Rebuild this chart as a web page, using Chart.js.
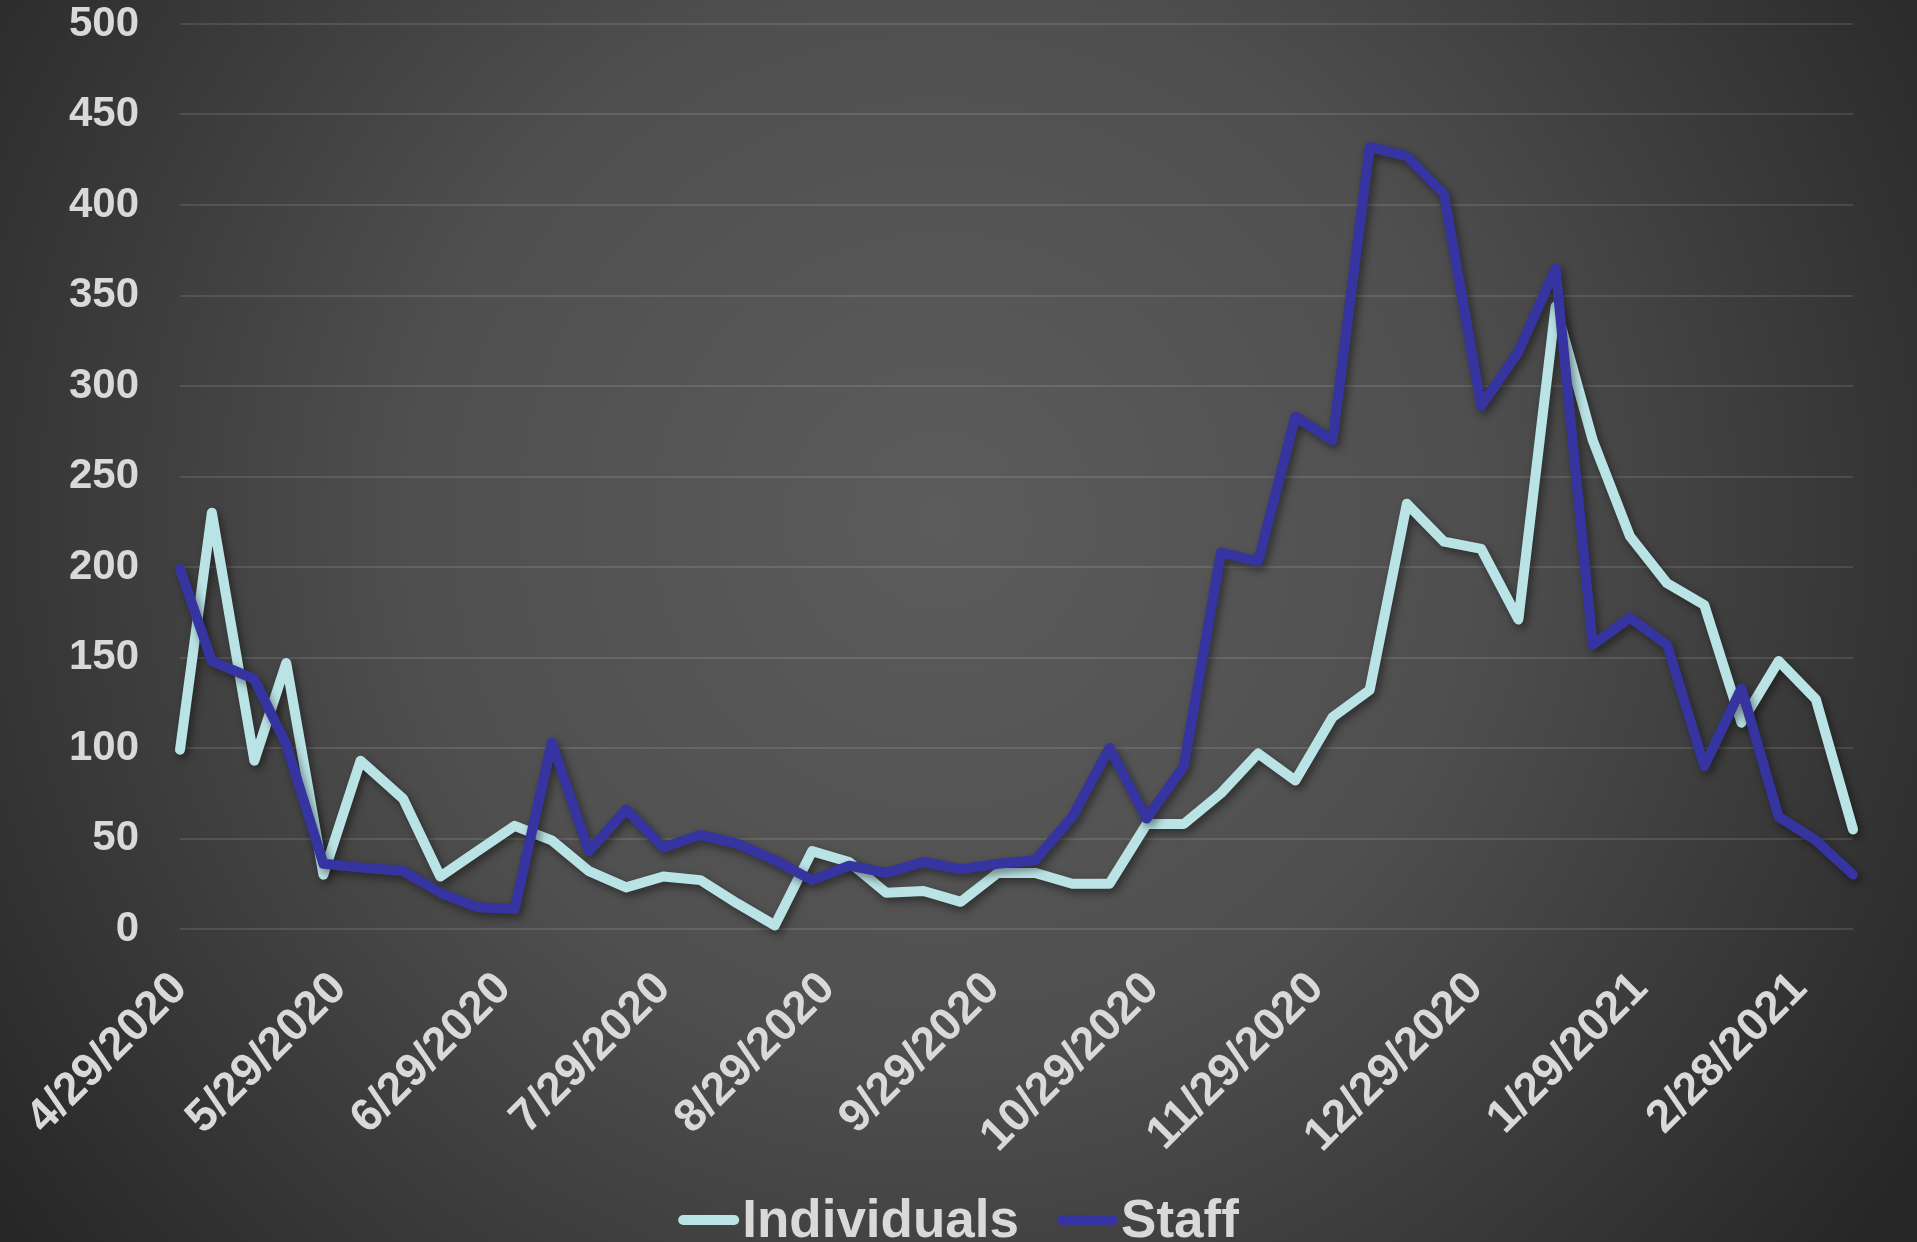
<!DOCTYPE html>
<html>
<head>
<meta charset="utf-8">
<title>Individuals and Staff</title>
<style>
  html, body { margin: 0; padding: 0; background: #2b2b2b; }
  #chart { display: block; }
</style>
<script src="https://cdn.jsdelivr.net/npm/chart.js@4.4.1/dist/chart.umd.min.js"></script>
</head>
<body>
<canvas id="chart" width="1917" height="1242"></canvas>
<script>
/* global Chart */

const reportDates = [
  '4/29/2020', '5/5/2020', '5/13/2020', '5/19/2020', '5/26/2020', '6/2/2020',
  '6/10/2020', '6/17/2020', '6/24/2020', '7/1/2020', '7/8/2020', '7/15/2020',
  '7/22/2020', '7/29/2020', '8/5/2020', '8/12/2020', '8/19/2020', '8/26/2020',
  '9/2/2020', '9/9/2020', '9/16/2020', '9/23/2020', '9/30/2020', '10/7/2020',
  '10/14/2020', '10/21/2020', '10/28/2020', '11/4/2020', '11/11/2020', '11/18/2020',
  '11/25/2020', '12/2/2020', '12/9/2020', '12/16/2020', '12/23/2020', '12/30/2020',
  '1/6/2021', '1/13/2021', '1/20/2021', '1/27/2021', '2/3/2021', '2/10/2021',
  '2/17/2021', '2/24/2021', '3/3/2021', '3/10/2021',
];

const individuals = [
  99, 230, 93, 147, 30, 93, 72, 29, 43, 57, 49, 32,
  23, 29, 27, 14, 2, 43, 37, 20, 21, 15, 31, 31,
  25, 25, 58, 58, 75, 97, 82, 117, 132, 235, 214, 210,
  171, 344, 270, 217, 191, 179, 114, 148, 127, 55,
];

const staff = [
  199, 148, 138, 102, 36, 34, 32, 20, 12, 11, 103, 43,
  66, 45, 52, 47, 38, 27, 35, 31, 37, 33, 36, 38,
  62, 100, 61, 90, 208, 203, 283, 270, 432, 427, 406, 289,
  319, 365, 157, 172, 157, 90, 133, 62, 49, 30,
];

const tickLabels = [
  '4/29/2020', '5/29/2020', '6/29/2020', '7/29/2020', '8/29/2020', '9/29/2020',
  '10/29/2020', '11/29/2020', '12/29/2020', '1/29/2021', '2/28/2021',
];

const yMax = 500;
const yStep = 50;

const FONT = '"Liberation Sans", Arial, Helvetica, sans-serif';
const TEXT_COLOR = '#d9d9d9';

function toUtc(label) {
  const [m, d, y] = label.split('/').map(Number);
  return Date.UTC(y, m - 1, d);
}

const origin = toUtc(reportDates[0]);

function dayNumber(label) {
  return Math.round((toUtc(label) - origin) / 86400000);
}

function toPoints(values) {
  return values.map((v, i) => ({ x: dayNumber(reportDates[i]), y: v }));
}

const backgroundGlow = {
  id: 'backgroundGlow',
  beforeDraw(chart) {
    const { ctx, width, height } = chart;
    const g = ctx.createRadialGradient(940, 520, 0, 940, 520, 1180);
    g.addColorStop(0, '#5c5c5c');
    g.addColorStop(0.45, '#4f4f4f');
    g.addColorStop(1, '#262626');
    ctx.save();
    ctx.fillStyle = g;
    ctx.fillRect(0, 0, width, height);
    ctx.restore();
  },
};

const lineShadow = {
  id: 'lineShadow',
  beforeDatasetDraw(chart) {
    const { ctx } = chart;
    ctx.save();
    ctx.shadowColor = 'rgba(0, 0, 0, 0.45)';
    ctx.shadowBlur = 9;
    ctx.shadowOffsetX = 3;
    ctx.shadowOffsetY = 4;
  },
  afterDatasetDraw(chart) {
    chart.ctx.restore();
  },
};

const bottomLegend = {
  id: 'bottomLegend',
  afterDraw(chart, args, opts) {
    const { ctx, width } = chart;
    ctx.save();
    ctx.font = `bold ${opts.fontSize}px ${FONT}`;
    const items = chart.data.datasets.map((ds) => ({
      text: ds.label,
      color: ds.borderColor,
      w: ctx.measureText(ds.label).width,
    }));
    const total = items.reduce((sum, it) => sum + opts.lineLength + opts.textGap + it.w, 0)
      + opts.itemGap * (items.length - 1);
    let x = (width - total) / 2;

    items.forEach((it) => {
      ctx.strokeStyle = it.color;
      ctx.lineWidth = opts.lineWidth;
      ctx.lineCap = 'round';
      ctx.beginPath();
      ctx.moveTo(x + opts.lineWidth / 2, opts.lineY);
      ctx.lineTo(x + opts.lineLength - opts.lineWidth / 2, opts.lineY);
      ctx.stroke();
      x += opts.lineLength + opts.textGap;

      ctx.fillStyle = TEXT_COLOR;
      ctx.textBaseline = 'alphabetic';
      ctx.textAlign = 'left';
      ctx.fillText(it.text, x, opts.baseline);
      x += it.w + opts.itemGap;
    });
    ctx.restore();
  },
};

function buildChart() {
  const ctx = document.getElementById('chart').getContext('2d');
  const tickDays = tickLabels.map(dayNumber);

  return new Chart(ctx, {
    type: 'line',
    data: {
      datasets: [
        {
          label: 'Individuals',
          data: toPoints(individuals),
          borderColor: '#bae3e5',
          borderWidth: 10,
          order: 1,
        },
        {
          label: 'Staff',
          data: toPoints(staff),
          borderColor: '#3634a0',
          borderWidth: 10,
          order: 0,
        },
      ],
    },
    options: {
      responsive: false,
      animation: false,
      devicePixelRatio: 1,
      layout: { padding: { top: 24, right: 64, bottom: 0, left: 0 } },
      elements: {
        point: { radius: 0, hoverRadius: 0 },
        line: {
          tension: 0,
          fill: false,
          borderCapStyle: 'round',
          borderJoinStyle: 'round',
        },
      },
      datasets: { line: { clip: false } },
      plugins: {
        legend: { display: false },
        tooltip: { enabled: false },
        bottomLegend: {
          fontSize: 53,
          lineLength: 61,
          lineWidth: 10,
          textGap: 3,
          itemGap: 38,
          lineY: 1220,
          baseline: 1237,
        },
      },
      scales: {
        x: {
          type: 'linear',
          min: 0,
          max: dayNumber(reportDates[reportDates.length - 1]),
          afterBuildTicks(scale) {
            scale.ticks = tickDays.map((value) => ({ value }));
          },
          afterFit(scale) {
            scale.height = 1242 - 929;
          },
          grid: { display: false, drawTicks: true, tickLength: 36, tickColor: 'transparent' },
          border: { display: false },
          ticks: {
            autoSkip: false,
            maxRotation: 45,
            minRotation: 45,
            padding: 0,
            color: TEXT_COLOR,
            font: { family: FONT, size: 46, weight: 'bold', lineHeight: 1 },
            callback: (value, index) => tickLabels[index],
          },
        },
        y: {
          min: 0,
          max: yMax,
          afterFit(scale) {
            scale.width = 180;
          },
          grid: {
            color: 'rgba(255, 255, 255, 0.11)',
            lineWidth: 2,
            drawTicks: true,
            tickLength: 41,
            tickColor: 'transparent',
          },
          border: { display: false },
          ticks: {
            stepSize: yStep,
            padding: 0,
            color: TEXT_COLOR,
            font: { family: FONT, size: 42, weight: 'bold', lineHeight: 1 },
          },
        },
      },
    },
    plugins: [backgroundGlow, lineShadow, bottomLegend],
  });
}

document.addEventListener('DOMContentLoaded', () => {
  buildChart();
});
</script>
</body>
</html>
